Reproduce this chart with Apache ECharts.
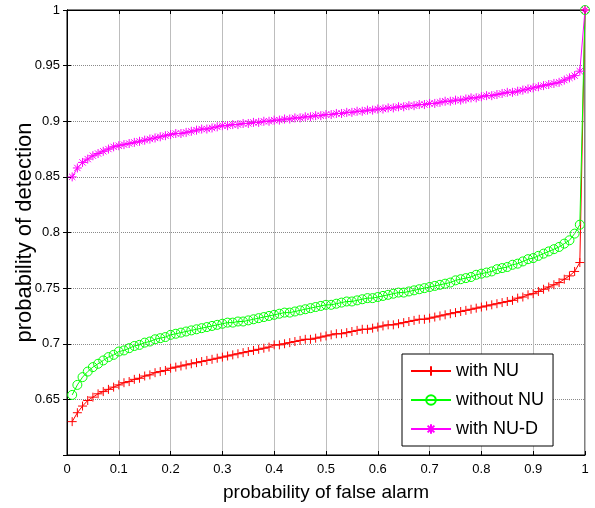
<!DOCTYPE html>
<html>
<head>
<meta charset="utf-8">
<script src="https://cdn.jsdelivr.net/npm/echarts@6/dist/echarts.min.js"></script>
<style>
  html, body { margin: 0; padding: 0; background: #fff; }
  #chart { width: 595px; height: 508px; }
</style>
</head>
<body>
<div id="chart"></div>
<script>
// probability of false alarm (x)
const pf = [
  0.01, 0.02, 0.03, 0.04, 0.05, 0.06, 0.07, 0.08, 0.09, 0.10,
  0.11, 0.12, 0.13, 0.14, 0.15, 0.16, 0.17, 0.18, 0.19, 0.20,
  0.21, 0.22, 0.23, 0.24, 0.25, 0.26, 0.27, 0.28, 0.29, 0.30,
  0.31, 0.32, 0.33, 0.34, 0.35, 0.36, 0.37, 0.38, 0.39, 0.40,
  0.41, 0.42, 0.43, 0.44, 0.45, 0.46, 0.47, 0.48, 0.49, 0.50,
  0.51, 0.52, 0.53, 0.54, 0.55, 0.56, 0.57, 0.58, 0.59, 0.60,
  0.61, 0.62, 0.63, 0.64, 0.65, 0.66, 0.67, 0.68, 0.69, 0.70,
  0.71, 0.72, 0.73, 0.74, 0.75, 0.76, 0.77, 0.78, 0.79, 0.80,
  0.81, 0.82, 0.83, 0.84, 0.85, 0.86, 0.87, 0.88, 0.89, 0.90,
  0.91, 0.92, 0.93, 0.94, 0.95, 0.96, 0.97, 0.98, 0.99, 1.00
];

// probability of detection, with NU
const withNU = [
  0.630, 0.638, 0.644, 0.649, 0.652, 0.655, 0.657, 0.659, 0.661, 0.663,
  0.665, 0.666, 0.668, 0.669, 0.671, 0.672, 0.674, 0.675, 0.676, 0.678,
  0.679, 0.680, 0.681, 0.682, 0.683, 0.684, 0.685, 0.686, 0.687, 0.688,
  0.689, 0.690, 0.691, 0.692, 0.693, 0.694, 0.695, 0.696, 0.697, 0.699,
  0.699, 0.700, 0.701, 0.702, 0.703, 0.704, 0.704, 0.705, 0.706, 0.707,
  0.708, 0.709, 0.709, 0.710, 0.711, 0.712, 0.713, 0.713, 0.714, 0.715,
  0.716, 0.717, 0.717, 0.718, 0.719, 0.720, 0.721, 0.722, 0.722, 0.723,
  0.724, 0.725, 0.726, 0.727, 0.728, 0.729, 0.730, 0.731, 0.732, 0.733,
  0.734, 0.735, 0.736, 0.737, 0.738, 0.739, 0.741, 0.742, 0.744, 0.745,
  0.747, 0.749, 0.751, 0.753, 0.755, 0.758, 0.761, 0.765, 0.773, 1.000
];

// without NU
const withoutNU = [
  0.654, 0.663, 0.670, 0.675, 0.679, 0.682, 0.685, 0.688, 0.690, 0.693,
  0.694, 0.696, 0.698, 0.699, 0.701, 0.702, 0.704, 0.705, 0.706, 0.708,
  0.709, 0.710, 0.711, 0.712, 0.713, 0.714, 0.715, 0.716, 0.717, 0.718,
  0.719, 0.719, 0.720, 0.720, 0.721, 0.722, 0.723, 0.724, 0.725, 0.726,
  0.727, 0.728, 0.728, 0.729, 0.730, 0.731, 0.732, 0.733, 0.734, 0.735,
  0.735, 0.736, 0.737, 0.738, 0.738, 0.739, 0.740, 0.741, 0.741, 0.742,
  0.743, 0.744, 0.745, 0.746, 0.746, 0.747, 0.748, 0.749, 0.750, 0.751,
  0.752, 0.753, 0.754, 0.755, 0.757, 0.758, 0.759, 0.760, 0.762, 0.763,
  0.764, 0.765, 0.767, 0.768, 0.769, 0.771, 0.772, 0.774, 0.776, 0.777,
  0.779, 0.781, 0.783, 0.785, 0.787, 0.790, 0.793, 0.799, 0.807, 1.000
];

// with NU-D
const withNUD = [
  0.850, 0.858, 0.863, 0.866, 0.869, 0.871, 0.873, 0.875, 0.877, 0.878,
  0.879, 0.880, 0.881, 0.882, 0.883, 0.884, 0.885, 0.886, 0.887, 0.888,
  0.889, 0.889, 0.890, 0.891, 0.892, 0.893, 0.893, 0.894, 0.895, 0.896,
  0.896, 0.897, 0.897, 0.898, 0.898, 0.899, 0.899, 0.900, 0.900, 0.901,
  0.901, 0.902, 0.902, 0.903, 0.903, 0.904, 0.904, 0.905, 0.905, 0.906,
  0.906, 0.907, 0.907, 0.908, 0.908, 0.909, 0.909, 0.910, 0.910, 0.911,
  0.911, 0.912, 0.912, 0.913, 0.913, 0.914, 0.914, 0.915, 0.915, 0.916,
  0.916, 0.917, 0.918, 0.918, 0.919, 0.919, 0.920, 0.921, 0.921, 0.922,
  0.923, 0.923, 0.924, 0.925, 0.926, 0.926, 0.927, 0.928, 0.929, 0.930,
  0.931, 0.932, 0.933, 0.934, 0.935, 0.937, 0.939, 0.941, 0.945, 1.000
];

const nombres = ['with NU', 'without NU', 'with NU-D'];
const colores = ['#ff0000', '#00ff00', '#ff00ff'];

const simboloMas = 'path://M0,5L10,5M5,0L5,10';
const simboloEstrella = 'path://M0,5L10,5M5,0L5,10M1.5,1.5L8.5,8.5M8.5,1.5L1.5,8.5';

function pares(ys) {
    return pf.map((x, i) => [x, ys[i]]);
}

const chart = echarts.init(document.getElementById('chart'));
const fuente = 'Liberation Sans, Arial, sans-serif';

chart.setOption({
    animation: false,
    textStyle: { fontFamily: fuente },
    grid: {
        left: 67, right: 10, top: 10, bottom: 53,
        outerBoundsMode: 'none',
        show: true, borderColor: '#000', borderWidth: 1
    },
    legend: {
        data: nombres,
        orient: 'vertical',
        left: 402, top: 354,
        backgroundColor: '#fff',
        borderColor: '#000', borderWidth: 1, borderRadius: 0,
        padding: [8, 9, 8, 8],
        itemWidth: 40, itemHeight: 12, itemGap: 11,
        textStyle: { fontSize: 18, color: '#000', fontFamily: fuente, lineHeight: 18 }
    },
    xAxis: [{
        type: 'value', min: 0, max: 1, interval: 0.1,
        name: 'probability of false alarm',
        nameLocation: 'middle', nameGap: 28, nameMoveOverlap: false,
        nameTextStyle: { fontSize: 19, color: '#000', fontFamily: fuente },
        axisLine: { lineStyle: { color: '#000', width: 1 } },
        axisTick: { inside: true, length: 4, lineStyle: { color: '#000' } },
        axisLabel: { fontSize: 13, color: '#000', margin: 8 },
        splitLine: { show: true, lineStyle: { color: '#bdbdbd', width: 1 } }
    }, {
        type: 'value', min: 0, max: 1, interval: 0.1, position: 'top',
        axisLine: { lineStyle: { color: '#000' } },
        axisTick: { inside: true, length: 4, lineStyle: { color: '#000' } },
        axisLabel: { show: false }, splitLine: { show: false }
    }],
    yAxis: [{
        type: 'value', min: 0.6, max: 1, interval: 0.05,
        name: 'probability of detection',
        nameLocation: 'middle', nameGap: 31, nameMoveOverlap: false,
        nameTextStyle: { fontSize: 22, color: '#000', fontFamily: fuente },
        axisLine: { lineStyle: { color: '#000', width: 1 } },
        axisTick: { inside: true, length: 4, lineStyle: { color: '#000' } },
        axisLabel: { fontSize: 13, color: '#000', margin: 7, showMinLabel: false },
        splitLine: { show: true, lineStyle: { color: '#8a8a8a', width: 1, type: 'dotted' } }
    }, {
        type: 'value', min: 0.6, max: 1, interval: 0.05, position: 'right',
        axisLine: { lineStyle: { color: '#000' } },
        axisTick: { inside: true, length: 4, lineStyle: { color: '#000' } },
        axisLabel: { show: false }, splitLine: { show: false }
    }],
    series: [
        {
            name: nombres[0], type: 'line', data: pares(withNU),
            symbol: simboloMas, symbolSize: 9,
            lineStyle: { color: colores[0], width: 1 },
            itemStyle: { color: colores[0], borderColor: colores[0], borderWidth: 1 }
        },
        {
            name: nombres[1], type: 'line', data: pares(withoutNU),
            symbol: 'circle', symbolSize: 9,
            lineStyle: { color: colores[1], width: 1 },
            itemStyle: { color: 'rgba(0,0,0,0)', borderColor: colores[1], borderWidth: 1 }
        },
        {
            name: nombres[2], type: 'line', data: pares(withNUD),
            symbol: simboloEstrella, symbolSize: 9,
            lineStyle: { color: colores[2], width: 1 },
            itemStyle: { color: colores[2], borderColor: colores[2], borderWidth: 1 }
        }
    ]
});
</script>
</body>
</html>
